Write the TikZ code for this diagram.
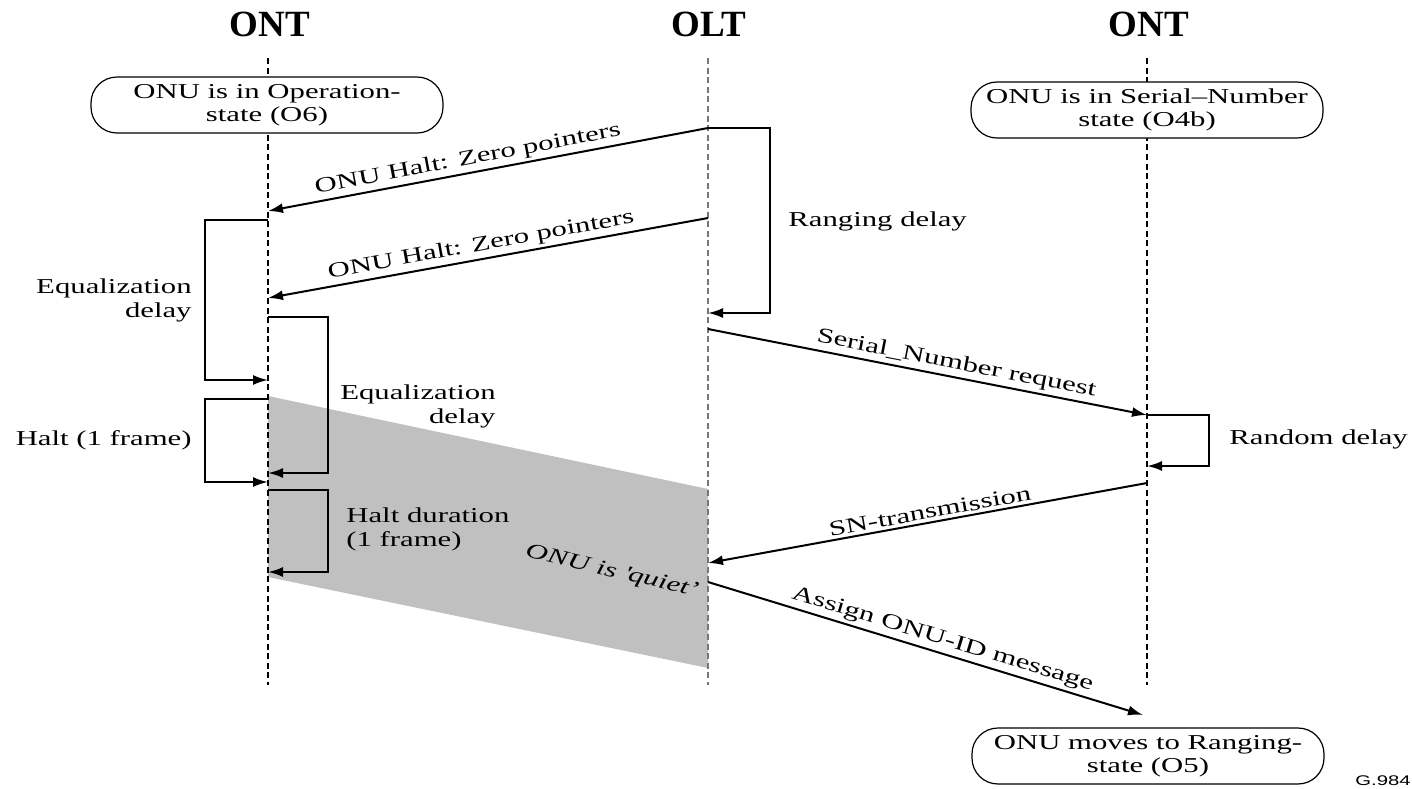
\documentclass[tikz,border=0pt]{standalone}
\usepackage{fontspec}
\setmainfont{Liberation Serif}[FakeStretch=1.45]
\newfontfamily\headfont{Liberation Serif}
\newfontfamily\tagfont{Liberation Sans}[FakeStretch=1.45]
\usetikzlibrary{arrows.meta}
\definecolor{quietgray}{HTML}{C0C0C0}
\definecolor{oltgray}{HTML}{777777}
\begin{document}
\begin{tikzpicture}[x=0.5pt,y=-0.5pt,
  life/.style={line width=0.75pt, dash pattern=on 3pt off 1.8pt},
  msg/.style={line width=1pt, -{Latex[length=7.5pt,width=5pt]}},
  lbl/.style={font=\fontsize{10.6}{12}\selectfont, inner sep=1.5pt},
  statebox/.style={draw, line width=0.6pt, rounded corners=13pt, fill=white,
    minimum width=176pt, minimum height=28pt, align=center,
    font=\fontsize{10.6}{11.5}\selectfont, inner sep=0pt},
  head/.style={font=\headfont\bfseries\fontsize{18.5}{20}\selectfont, inner sep=0pt}]
\useasboundingbox (0,0) rectangle (1412,788);

% headers
\node[head] (h1) at (270,24) {ONT};
\node[head] (h2) at (709,24) {OLT};
\node[head] (h3) at (1149,24) {ONT};

% lifeline ends
\coordinate (A0) at (268,58);  \coordinate (A1) at (268,685);
\coordinate (B0) at (708,58);  \coordinate (B1) at (708,685);
\coordinate (C0) at (1147,58); \coordinate (C1) at (1147,685);

% quiet region
\fill[quietgray] (268,396) -- (708,489) -- (708,668) -- (268,577) -- cycle;

% lifelines
\draw[life] (A0) -- (A1);
\draw[life, draw=oltgray] (B0) -- (B1);
\draw[life] (C0) -- (C1);

% state boxes
\node[statebox] (s1) at (267,105) {ONU is in Operation-\\state (O6)};
\node[statebox] (s2) at (1147,110) {ONU is in Serial–Number\\state (O4b)};
\node[statebox] (s3) at (1148,756) {ONU moves to Ranging-\\state (O5)};

% message points
\coordinate (m1a) at (708,128); \coordinate (m1b) at (268,211);
\coordinate (m2a) at (708,218); \coordinate (m2b) at (268,298);
\coordinate (rr)  at (708,313);
\coordinate (e1a) at (268,220); \coordinate (e1b) at (268,380);
\coordinate (e2a) at (268,317); \coordinate (e2b) at (268,473);
\coordinate (h1a) at (268,399); \coordinate (h1b) at (268,482);
\coordinate (h2a) at (268,490); \coordinate (h2b) at (268,572);
\coordinate (sna) at (708,329); \coordinate (snb) at (1147,415);
\coordinate (rdb) at (1147,466);
\coordinate (sta) at (1147,483); \coordinate (stb) at (708,563);
\coordinate (asa) at (708,582); \coordinate (asb) at (1143,715);

% messages
\draw[msg] (m1a) -- node[lbl, sloped, above, pos=0.54] {ONU Halt: Zero pointers} (m1b);
\draw[msg] (m2a) -- node[lbl, sloped, above, pos=0.51] {ONU Halt: Zero pointers} (m2b);
\draw[msg] (sna) -- node[lbl, sloped, above, pos=0.56] {Serial\_Number request} (snb);
\draw[msg] (sta) -- node[lbl, sloped, above, pos=0.49] {SN-transmission} (stb);
\draw[msg] (asa) -- node[lbl, sloped, above, pos=0.53] {Assign ONU-ID message} (asb);

% delay brackets
\draw[msg] (m1a) -- ++(62,0) |- (rr);
\draw[msg] (e1a) -- ++(-63,0) |- (e1b);
\draw[msg] (e2a) -- ++(60,0) |- (e2b);
\draw[msg] (h1a) -- ++(-63,0) |- (h1b);
\draw[msg] (h2a) -- ++(60,0) |- (h2b);
\draw[msg] (snb) -- ++(62,0) |- (rdb);

% delay labels
\node[lbl, anchor=west] (tr) at (785,221) {Ranging delay};
\node[lbl, anchor=east, align=right] (te1) at (195,300) {Equalization\\delay};
\node[lbl, anchor=east, align=right] (te2) at (499,406) {Equalization\\delay};
\node[lbl, anchor=east] (th1) at (195,440) {Halt (1 frame)};
\node[lbl, anchor=west, align=left] (th2) at (343,529) {Halt duration\\(1 frame)};
\node[lbl, anchor=west] (trd) at (1226,439) {Random delay};
\node[lbl, font=\fontsize{10.6}{12}\selectfont\itshape, rotate=-13] (tq) at (612,572) {ONU is \textquotesingle quiet'};

% figure tag
\node[anchor=east, font=\tagfont\fontsize{7}{8}\selectfont, inner sep=0pt] (tag) at (1411,781) {G.984};
\end{tikzpicture}
\end{document}
